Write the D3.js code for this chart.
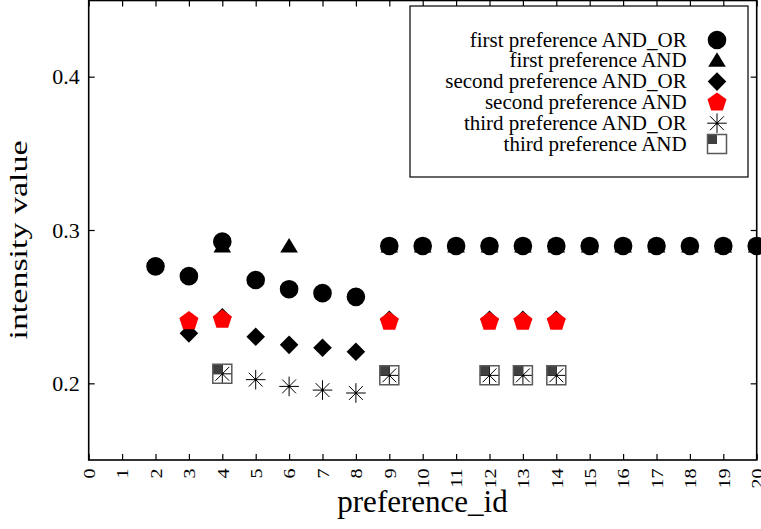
<!DOCTYPE html>
<html>
<head>
<meta charset="utf-8">
<script src="https://cdn.jsdelivr.net/npm/d3@7"></script>
<style>
  body { margin: 0; background: #fff; }
  text { font-family: "Liberation Serif", "Times New Roman", serif; fill: #000; }
</style>
</head>
<body>
<div id="chart"></div>
<script>
// tick values
const xTicks = [0, 1, 2, 3, 4, 5, 6, 7, 8, 9, 10, 11, 12, 13, 14, 15, 16, 17, 18, 19, 20];
const yTicks = [0.2, 0.3, 0.4];

// series (preference_id -> intensity value)
const firstAndOrIds = [2, 3, 4, 5, 6, 7, 8, 9, 10, 11, 12, 13, 14, 15, 16, 17, 18, 19, 20];
const firstAndOrVals = [0.2763, 0.2699, 0.2924, 0.2674, 0.2614, 0.2588, 0.2564,
  0.2896, 0.2896, 0.2896, 0.2896, 0.2896, 0.2896, 0.2896, 0.2896, 0.2896, 0.2896, 0.2896, 0.2896];

const firstAndIds = [4, 6, 9, 10, 11, 12, 13, 14, 15, 16, 17, 18, 19, 20];
const firstAndVals = [0.2892, 0.2892, 0.2892, 0.2892, 0.2892, 0.2892, 0.2892,
  0.2892, 0.2892, 0.2892, 0.2892, 0.2892, 0.2892, 0.2892];

const secondAndOrIds = [3, 4, 5, 6, 7, 8, 9, 12, 13, 14];
const secondAndOrVals = [0.2326, 0.2431, 0.2304, 0.2251, 0.2232, 0.2206, 0.2415, 0.2415, 0.2415, 0.2415];

const secondAndIds = [3, 4, 9, 12, 13, 14];
const secondAndVals = [0.2406, 0.2416, 0.2402, 0.2402, 0.2402, 0.2402];

const thirdAndOrIds = [4, 5, 6, 7, 8, 9, 12, 13, 14];
const thirdAndOrVals = [0.2062, 0.2024, 0.1980, 0.1956, 0.1937, 0.2052, 0.2052, 0.2052, 0.2052];

const thirdAndIds = [4, 9, 12, 13, 14];
const thirdAndVals = [0.2062, 0.2052, 0.2052, 0.2052, 0.2052];

const legendLabels = ["first preference AND_OR", "first preference AND", "second preference AND_OR",
  "second preference AND", "third preference AND_OR", "third preference AND"];

// dimensions
const W = 761, H = 529;
const plot = { left: 88.7, right: 756.7, top: 0.5, bottom: 460 };

const svg = d3.select("#chart").append("svg")
    .attr("width", W)
    .attr("height", H);

const x = d3.scaleLinear().domain([0, 20]).range([plot.left, plot.right]);
const y = d3.scaleLinear().domain([0.15, 0.45]).range([plot.bottom, 0]);

// custom marker shapes (size = r^2)
const symTriangle = { draw(ctx, size) { const r = Math.sqrt(size);
  ctx.moveTo(0, -r * 0.9); ctx.lineTo(r * 0.93, r * 0.62); ctx.lineTo(-r * 0.93, r * 0.62); ctx.closePath(); } };
const symDiamond = { draw(ctx, size) { const r = Math.sqrt(size);
  ctx.moveTo(0, -r); ctx.lineTo(r, 0); ctx.lineTo(0, r); ctx.lineTo(-r, 0); ctx.closePath(); } };
const symPentagon = { draw(ctx, size) { const r = Math.sqrt(size);
  for (let k = 0; k < 5; k++) {
    const a = -Math.PI / 2 + k * 2 * Math.PI / 5;
    if (k === 0) ctx.moveTo(r * Math.cos(a), r * Math.sin(a));
    else ctx.lineTo(r * Math.cos(a), r * Math.sin(a));
  }
  ctx.closePath(); } };
const symStar = { draw(ctx, size) { const r = Math.sqrt(size), d = r * Math.SQRT1_2;
  ctx.moveTo(-r, 0); ctx.lineTo(r, 0);
  ctx.moveTo(0, -r); ctx.lineTo(0, r);
  ctx.moveTo(-d, -d); ctx.lineTo(d, d);
  ctx.moveTo(-d, d); ctx.lineTo(d, -d); } };
const symSquare = { draw(ctx, size) { const r = Math.sqrt(size);
  ctx.rect(-r, -r, 2 * r, 2 * r); } };
const symQuarter = { draw(ctx, size) { const r = Math.sqrt(size);
  ctx.rect(-r, -r, r, r); } };

const pathCircle = d3.symbol().type(d3.symbolCircle).size(Math.PI * 9.3 * 9.3)();
const pathTriangle = d3.symbol().type(symTriangle).size(9.5 * 9.5)();
const pathDiamond = d3.symbol().type(symDiamond).size(9.3 * 9.3)();
const pathPentagon = d3.symbol().type(symPentagon).size(10 * 10)();
const pathStar = d3.symbol().type(symStar).size(9.8 * 9.8)();
const pathSquare = d3.symbol().type(symSquare).size(9.5 * 9.5)();
const pathQuarter = d3.symbol().type(symQuarter).size(9.5 * 9.5)();

// draw one marker into a group
function drawMarker(g, kind) {
  if (kind === 0) g.append("path").attr("d", pathCircle).attr("fill", "#000");
  if (kind === 1) g.append("path").attr("d", pathTriangle).attr("fill", "#000");
  if (kind === 2) g.append("path").attr("d", pathDiamond).attr("fill", "#000");
  if (kind === 3) g.append("path").attr("d", pathPentagon).attr("fill", "#ff0000");
  if (kind === 4) {
    g.append("path").attr("d", pathStar).attr("fill", "none").attr("stroke", "#000").attr("stroke-width", 1);
    g.append("circle").attr("r", 1.3).attr("fill", "#000");
  }
  if (kind === 5) {
    g.append("path").attr("d", pathQuarter).attr("fill", "#404040");
    g.append("path").attr("d", pathSquare).attr("fill", "none").attr("stroke", "#5a5a5a").attr("stroke-width", 1.5);
  }
}

const series = [
  [firstAndOrIds, firstAndOrVals],
  [firstAndIds, firstAndVals],
  [secondAndOrIds, secondAndOrVals],
  [secondAndIds, secondAndVals],
  [thirdAndOrIds, thirdAndOrVals],
  [thirdAndIds, thirdAndVals]
];

series.forEach(([ids, vals], k) => {
  svg.append("g").selectAll("g")
    .data(ids.map((id, i) => ({ id: id, v: vals[i] })))
    .join("g")
      .attr("transform", d => "translate(" + x(d.id) + "," + y(d.v) + ")")
      .each(function() { drawMarker(d3.select(this), k); });
});

// axes with inward ticks, mirrored on top and right
const axB = svg.append("g").attr("transform", "translate(0," + plot.bottom + ")")
    .call(d3.axisBottom(x).tickValues(xTicks).tickSize(-6).tickFormat(d3.format("d")));
axB.selectAll("text")
    .attr("x", 0).attr("y", 0).attr("dy", "0.36em")
    .attr("text-anchor", "end")
    .attr("transform", "translate(0,8.5) rotate(-90) scale(1,0.8)")
    .style("font-size", "20px");

const axL = svg.append("g").attr("transform", "translate(" + plot.left + ",0)")
    .call(d3.axisLeft(y).tickValues(yTicks).tickSize(-6).tickPadding(9).tickFormat(d3.format(".1f")));
axL.selectAll("text").style("font-size", "22px").attr("dy", "0.32em");

svg.append("g").attr("transform", "translate(0," + plot.top + ")")
    .call(d3.axisTop(x).tickValues(xTicks).tickSize(-6).tickFormat(""));
svg.append("g").attr("transform", "translate(" + plot.right + ",0)")
    .call(d3.axisRight(y).tickValues(yTicks).tickSize(-6).tickFormat(""));

svg.selectAll(".domain").remove();
svg.selectAll(".tick line").attr("stroke", "#000").attr("stroke-width", 1.2);

// frame
svg.append("rect")
    .attr("x", plot.left).attr("y", plot.top)
    .attr("width", plot.right - plot.left).attr("height", plot.bottom - plot.top)
    .attr("fill", "none").attr("stroke", "#000").attr("stroke-width", 1.6);

// axis titles
svg.append("text")
    .attr("x", 422.5).attr("y", 511.5)
    .attr("text-anchor", "middle")
    .style("font-size", "31px")
    .text("preference_id");

svg.append("text")
    .attr("text-anchor", "middle")
    .attr("transform", "translate(27,240) rotate(-90) scale(1,0.72)")
    .style("font-size", "34px")
    .text("intensity value");

// legend
const leg = svg.append("g");
leg.append("rect")
    .attr("x", 410).attr("y", 6).attr("width", 338).attr("height", 171)
    .attr("fill", "#fff").attr("stroke", "#000").attr("stroke-width", 1.2);

legendLabels.forEach((lab, i) => {
  const cy = 40 + i * 20.8;
  leg.append("text")
      .attr("x", 686.7).attr("y", cy + 6.5)
      .attr("text-anchor", "end")
      .style("font-size", "21px")
      .text(lab);
  const g = leg.append("g").attr("transform", "translate(717," + cy + ")");
  drawMarker(g, i);
});
</script>
</body>
</html>
